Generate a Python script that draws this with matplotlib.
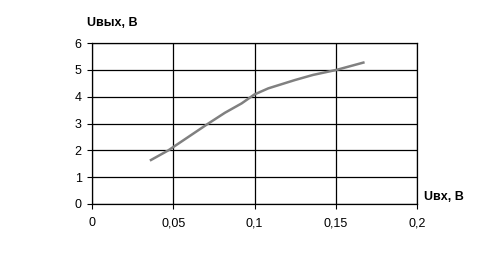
import numpy as np
import matplotlib
matplotlib.use('Agg')
import matplotlib.pyplot as plt

# Values
u_in = [0.0363, 0.047, 0.0716, 0.0818, 0.0921, 0.0999, 0.1085, 0.1249, 0.136, 0.1506, 0.167]
u_out = [1.64, 2.0, 3.0, 3.4, 3.75, 4.08, 4.31, 4.62, 4.81, 5.0, 5.27]
x_ticks = [0, 0.05, 0.1, 0.15, 0.2]
x_ticklabels = ['0', '0,05', '0,1', '0,15', '0,2']
y_ticks = [0, 1, 2, 3, 4, 5, 6]

plt.rcParams['font.family'] = ['Liberation Sans', 'DejaVu Sans']

fig = plt.figure(figsize=(4.91, 2.73), dpi=100)
ax = fig.add_axes([92 / 491, 1 - 204 / 273, 325 / 491, 161 / 273])

ax.plot(u_in, u_out, color='#808080', linewidth=1.8)

ax.set_xlim(0, 0.2)
ax.set_ylim(0, 6)
ax.set_xticks(x_ticks)
ax.set_xticklabels(x_ticklabels)
ax.set_yticks(y_ticks)
ax.tick_params(direction='out', length=3.5, width=0.8, labelsize=9, colors='black')
ax.tick_params(axis='x', pad=6)
ax.tick_params(axis='y', pad=4)
ax.grid(True, color='black', linewidth=0.9)
for s in ax.spines.values():
    s.set_color('black')
    s.set_linewidth(0.9)

# axis titles sit at the ends of the axes, as in the original
fig.text(87 / 491, 1 - 23 / 273, 'Uвых, В', fontsize=9, fontweight='bold',
         ha='left', va='center')
fig.text(424 / 491, 1 - 197 / 273, 'Uвх, В', fontsize=9, fontweight='bold',
         ha='left', va='center')

fig.savefig('out.png', dpi=100)
